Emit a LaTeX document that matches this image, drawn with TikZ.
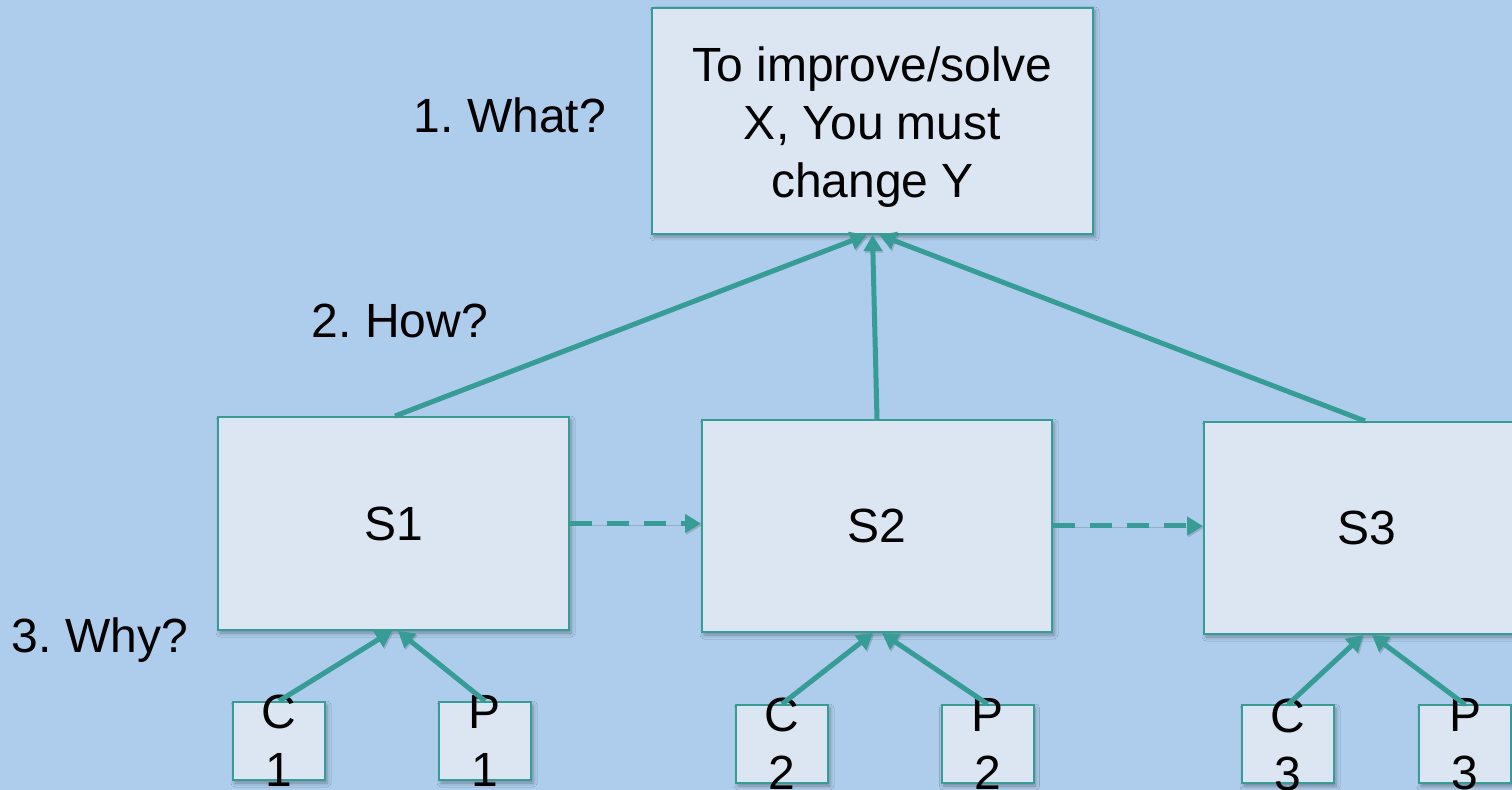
\documentclass[tikz,border=0pt]{standalone}
\usepackage{fontspec}
\setmainfont{Liberation Sans}
\usetikzlibrary{arrows.meta,shadows.blur}
\definecolor{bgblue}{RGB}{174,205,236}
\definecolor{boxfill}{RGB}{220,230,242}
\definecolor{tealline}{RGB}{56,156,150}
\frenchspacing
\begin{document}
\begin{tikzpicture}[x=0.5pt,y=-0.5pt,
  every node/.style={font=\fontsize{24}{29}\selectfont, text=black},
  box/.style={draw=tealline, line width=1pt, fill=boxfill, inner sep=0pt,
    blur shadow={shadow xshift=1pt, shadow yshift=-1.5pt,
      shadow blur radius=2pt, shadow opacity=35}},
  smallbox/.style={box, minimum width=46pt, minimum height=39pt},
  boxtext/.style={align=center, inner sep=0pt},
  link/.style={draw=tealline, line width=2.5pt,
    -{Triangle[length=8pt,width=9pt]},
    preaction={draw=black, opacity=0.15,
      transform canvas={shift={(0.6pt,-0.9pt)}}}},
  dashlink/.style={link, dash pattern=on 11pt off 7.5pt},
  tag/.style={anchor=base}]

% page background
\fill[bgblue] (0,0) rectangle (1512,790);
\useasboundingbox (0,0) rectangle (1512,790);

% goal box and its statement
\node[box, minimum width=220.5pt, minimum height=113pt] (goal) at (872.5,121) {};
\node[boxtext] (goalt) at ([yshift=-3pt]goal.center)
  {To improve/solve\\X, You must\\change Y};

% strategy boxes
\node[box, minimum width=175.5pt, minimum height=106.5pt] (s1) at (393.5,523.5) {S1};
\node[box, minimum width=175pt, minimum height=106pt] (s2) at (877,526) {S2};
\node[box, minimum width=163pt, minimum height=106pt] (s3) at (1367,528) {S3};

% condition / premise boxes
\node[smallbox] (c1) at (279,741) {};
\node[smallbox] (p1) at (485,741) {};
\node[smallbox] (c2) at (782,744) {};
\node[smallbox] (p2) at (987.5,744) {};
\node[smallbox] (c3) at (1288,744.5) {};
\node[smallbox] (p3) at (1465,744.5) {};
\node[boxtext] (c1t) at (c1.center) {C\\1};
\node[boxtext] (p1t) at (p1.center) {P\\1};
\node[boxtext] (c2t) at (c2.center) {C\\2};
\node[boxtext] (p2t) at (p2.center) {P\\2};
\node[boxtext] (c3t) at (c3.center) {C\\3};
\node[boxtext] (p3t) at (p3.center) {P\\3};

% strategies feed the goal
\draw[link] ([xshift=0.75pt]s1.north) -- ([xshift=-3pt]goal.south);
\draw[link] (s2.north) -- (goal.south);
\draw[link] ([xshift=-1pt]s3.north) -- ([xshift=3.5pt]goal.south);

% conditions and premises feed each strategy
\draw[link] (c1.north) -- ([xshift=-0.75pt]s1.south);
\draw[link] (p1.north) -- ([xshift=2.25pt]s1.south);
\draw[link] (c2.north) -- ([xshift=-2pt]s2.south);
\draw[link] (p2.north) -- ([xshift=2.5pt]s2.south);
\draw[link] (c3.north) -- ([xshift=-2pt]s3.south);
\draw[link] (p3.north) -- ([xshift=2.5pt]s3.south);

% sequence between strategies
\draw[dashlink] (s1.east) -- (s1.east -| s2.west);
\draw[dashlink] (s2.east) -- (s2.east -| s3.west);

% questions
\node[tag] (what) at (510,133) {1. What?};
\node[tag] (how) at (400,338) {2. How?};
\node[tag] (why) at (100,653) {3. Why?};
\end{tikzpicture}
\end{document}
